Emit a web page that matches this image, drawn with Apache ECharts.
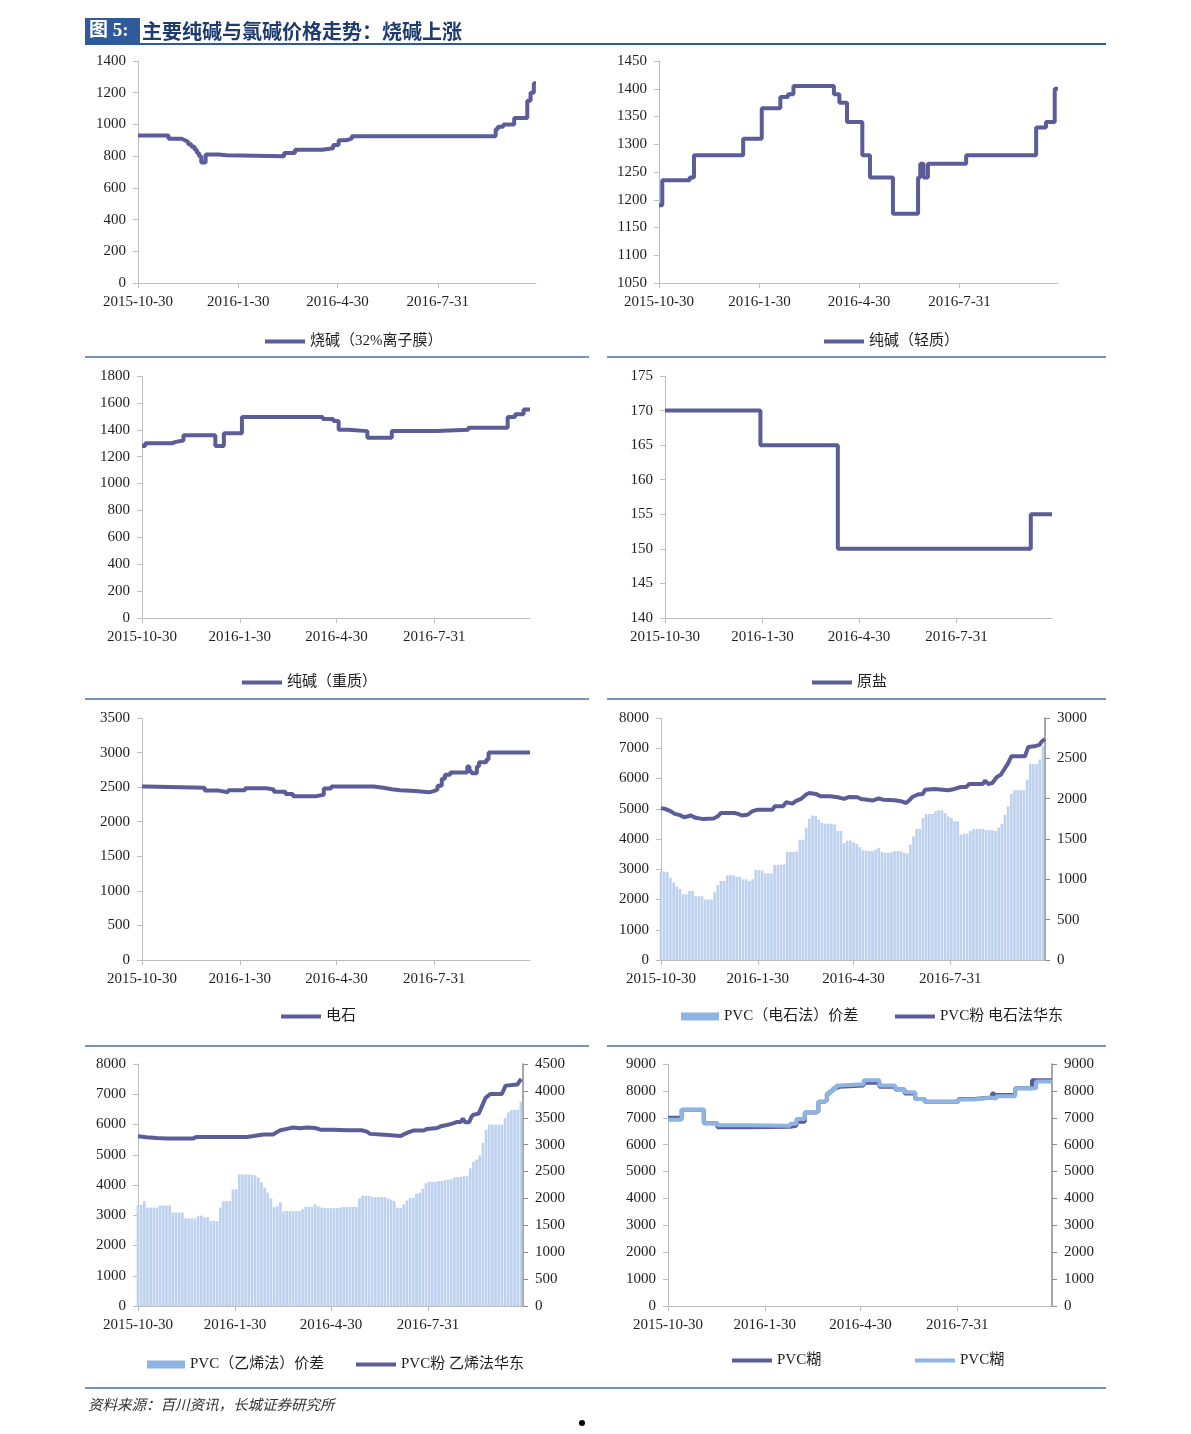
<!DOCTYPE html>
<html><head><meta charset="utf-8">
<script src="https://cdn.jsdelivr.net/npm/echarts@6/dist/echarts.min.js"></script>
<style>html,body{margin:0;padding:0;background:#fff;}#c{width:1191px;height:1434px;}</style>
</head><body><div id="c"></div>
<script>
// ---------- x axis (days since 2015-10-30) ----------
const tickDays = [0, 92, 183, 275];
const tickLabels = ['2015-10-30', '2016-1-30', '2016-4-30', '2016-7-31'];

// ---------- series: [day, value] ----------
const causticSoda = [[0,930],[28,910],[40,900],[43,890],[46,875],[49,860],[52,840],[54,820],[56,800],[58,760],[62,810],[74,805],[81,800],[134,820],[144,840],[169,850],[179,870],[184,900],[191,910],[196,925],[328,970],[330,985],[335,1000],[345,1040],[357,1150],[360,1200],[363,1260],[365,1260]];
const lightSodaAsh = [[0,1190],[3,1235],[28,1240],[32,1280],[77,1310],[94,1365],[111,1385],[118,1390],[123,1405],[160,1390],[165,1375],[172,1340],[186,1280],[193,1240],[214,1175],[237,1240],[239,1265],[242,1240],[246,1265],[281,1280],[345,1330],[354,1340],[362,1400],[365,1400]];
const heavySodaAsh = [[0,1280],[3,1300],[28,1310],[32,1320],[39,1360],[69,1280],[77,1375],[94,1495],[170,1480],[180,1465],[185,1400],[194,1390],[212,1340],[235,1390],[277,1400],[307,1415],[344,1495],[351,1515],[359,1550],[365,1550]];
const rawSalt = [[0,170],[90,165],[163,150],[345,155],[365,155]];
const carbide = [[0,2510],[4,2490],[59,2450],[72,2425],[81,2455],[97,2485],[117,2465],[124,2435],[135,2400],[142,2370],[164,2390],[171,2480],[178,2510],[218,2490],[227,2470],[235,2455],[243,2445],[257,2425],[270,2450],[276,2470],[278,2520],[282,2620],[285,2680],[290,2710],[306,2800],[308,2730],[310,2700],[315,2800],[317,2860],[324,2900],[326,3000],[365,3000]];
const pvcCarbideEast = [[0,5020],[4.5,4990],[9,4920],[13,4830],[18,4790],[22,4720],[26,4750],[28,4780],[33,4700],[39,4665],[50,4680],[54,4750],[57,4860],[70,4860],[73,4830],[77,4780],[82,4800],[87,4920],[92,4970],[106,4970],[108,5080],[116,5080],[119,5215],[125,5170],[128,5250],[133,5325],[138,5470],[141,5520],[147,5490],[152,5410],[161,5410],[168,5380],[174,5325],[179,5390],[187,5380],[190,5325],[196,5300],[201,5270],[207,5340],[211,5300],[222,5280],[228,5250],[233,5190],[236,5280],[239,5390],[244,5470],[249,5490],[251,5630],[260,5655],[273,5610],[279,5655],[285,5720],[290,5720],[293,5820],[306,5820],[308,5930],[311,5820],[315,5850],[319,6040],[323,6130],[326,6290],[330,6510],[333,6735],[346,6735],[349,7040],[355,7065],[360,7120],[362,7230],[365,7300]];
const pvcEthyleneEast = [[0,5610],[8,5580],[17.5,5550],[27,5535],[52,5535],[55.5,5590],[103,5590],[108,5610],[109,5645],[119,5670],[128,5670],[131.5,5745],[135,5810],[141,5855],[147,5900],[154,5875],[160,5900],[168,5885],[173,5830],[185,5830],[198,5810],[212,5810],[217,5765],[220,5690],[230,5670],[231,5610],[249,5620],[253,5690],[258,5765],[261,5800],[271,5800],[274,5855],[283.5,5885],[287,5940],[293,5985],[298,6030],[302.5,6085],[306,6085],[308,6195],[310,6075],[314,6075],[316,6250],[318,6325],[323,6360],[326,6600],[329.5,6880],[334,7010],[345,7010],[348.5,7285],[359.6,7320],[361,7395],[363.4,7505]];
const pvcPasteA = [[0,7000],[13,7300],[34,6800],[47,6650],[75,6670],[116,6700],[122,6850],[130,7200],[141,7250],[143,7600],[149,7650],[151,7900],[154,8000],[157,8100],[160,8150],[163,8200],[186,8300],[201,8150],[216,8050],[225,7900],[235,7700],[244,7600],[276,7700],[291,7750],[308,7900],[310,7750],[312,7850],[330,8100],[346,8400],[365,8400]];
const pvcPasteB = [[0,6930],[13,7300],[34,6800],[47,6720],[75,6700],[116,6780],[122,6950],[130,7200],[141,7250],[143,7600],[149,7650],[151,7900],[154,8000],[157,8100],[160,8200],[163,8250],[186,8400],[201,8200],[216,8050],[225,7950],[235,7700],[244,7600],[276,7680],[291,7750],[308,7700],[312,7800],[330,8100],[350,8350],[365,8350]];

// spread bars, one value every 3 days starting 2015-10-30
const spreadCarbide = [
 1095,1095,1090,1020,960,915,880,815,815,855,
 855,790,790,790,750,750,750,840,930,980,
 980,1050,1050,1050,1030,1030,1000,1000,980,1000,
 1115,1115,1110,1075,1075,1075,1180,1180,1180,1185,
 1340,1340,1340,1345,1490,1490,1640,1750,1790,1785,
 1740,1700,1690,1690,1690,1680,1600,1600,1450,1480,
 1480,1460,1440,1400,1360,1355,1350,1350,1370,1390,
 1340,1330,1330,1335,1350,1350,1350,1330,1320,1430,
 1530,1625,1625,1760,1810,1810,1810,1845,1855,1855,
 1820,1780,1760,1720,1720,1555,1565,1565,1600,1625,
 1625,1625,1625,1610,1610,1610,1600,1640,1690,1800,
 1905,2060,2105,2105,2105,2105,2235,2430,2430,2430,
 2485,2650];
const spreadEthylene = [
 1875,1880,1950,1830,1830,1830,1830,1870,1870,1870,
 1870,1740,1740,1740,1740,1630,1630,1630,1630,1680,
 1680,1650,1650,1580,1580,1580,1830,1950,1950,1950,
 2170,2170,2445,2445,2445,2445,2445,2430,2390,2300,
 2200,2110,2000,1840,1855,1930,1760,1765,1765,1765,
 1765,1765,1800,1845,1845,1845,1890,1855,1830,1820,
 1820,1820,1820,1820,1830,1840,1840,1840,1840,1840,
 2000,2050,2045,2045,2030,2025,2025,2025,2025,2000,
 1980,1950,1825,1825,1890,1960,2010,2010,2090,2105,
 2180,2280,2310,2310,2310,2325,2325,2340,2350,2360,
 2395,2395,2400,2415,2415,2560,2680,2725,2800,3035,
 3280,3375,3375,3375,3375,3375,3500,3600,3640,3650,
 3650,3800];
const BAR_STEP_DAYS = 3;

// ---------- styles ----------
const FONT = "'Liberation Serif','Noto Sans CJK SC',serif";
const TEXT = '#1e1e1e';
const DARK = '#5b5c98';
const LIGHT = '#8db4e2';
const BAR = '#bed2ef';
const BAR_LEG = '#8db3e3';
const AX = '#bdbdbd';
const AXR = '#8a8a8a';
const BLUE = '#2f5b9a';

const grids = [
 {left:138, top:61, width:398, height:222},
 {left:659, top:61, width:399, height:222},
 {left:142, top:376, width:388, height:242},
 {left:665, top:376, width:387, height:242},
 {left:142, top:718, width:388, height:242},
 {left:661, top:718, width:384, height:242},
 {left:138, top:1064, width:385, height:242},
 {left:668, top:1064, width:384, height:242}
].map(g => Object.assign({containLabel:false, outerBoundsMode:'none'}, g));

const lab = {color:TEXT, fontSize:15, fontFamily:FONT};
function xAx(g){
  return {type:'value', gridIndex:g, min:0, max:365,
    axisLine:{show:true, onZero:false, lineStyle:{color:AX, width:1}},
    axisTick:{show:true, customValues:tickDays, length:5, lineStyle:{color:AX}},
    axisLabel:Object.assign({customValues:tickDays, margin:12,
      formatter:v => { const k = tickDays.indexOf(Math.round(v)); return k < 0 ? '' : tickLabels[k]; }}, lab),
    splitLine:{show:false}};
}
function yAx(g, min, max, interval, right){
  const c = right ? AXR : AX;
  return {type:'value', gridIndex:g, min, max, interval, position: right ? 'right' : 'left',
    axisLine:{show:true, lineStyle:{color:c, width: right ? 1.5 : 1}},
    axisTick:{show:true, length:5, lineStyle:{color:c}},
    axisLabel:Object.assign({margin:12, formatter:v => String(v)}, lab),
    splitLine:{show:false}};
}
function line(name, g, y, data, color, step){
  return {type:'line', name, xAxisIndex:g, yAxisIndex:y, data, step: step ? 'end' : false,
    symbol:'none', showSymbol:false, lineStyle:{width:4, color}, itemStyle:{color}, animation:false, z:3};
}
function bars(name, g, y, vals){
  return {type:'bar', name, xAxisIndex:g, yAxisIndex:y, barWidth:2.7,
    data: vals.map((v, i) => [i * BAR_STEP_DAYS, v]),
    itemStyle:{color:BAR}, animation:false, z:2};
}
function leg(name, left, cy, isBar){
  return {left, top: cy - 6, padding:0, itemGap:0, selectedMode:false,
    itemWidth: isBar ? 38 : 40, itemHeight: isBar ? 8 : 4, icon:'rect',
    data:[isBar ? {name, itemStyle:{color:BAR_LEG}} : name],
    formatter: n => n.trim(),
    textStyle:{color:TEXT, fontSize:15, fontFamily:FONT}};
}

const option = {
  backgroundColor:'#fff',
  animation:false,
  grid: grids,
  xAxis: [0,1,2,3,4,5,6,7].map(xAx),
  yAxis: [
    yAx(0, 0, 1400, 200),
    yAx(1, 1050, 1450, 50),
    yAx(2, 0, 1800, 200),
    yAx(3, 140, 175, 5),
    yAx(4, 0, 3500, 500),
    yAx(5, 0, 8000, 1000),
    yAx(5, 0, 3000, 500, true),
    yAx(6, 0, 8000, 1000),
    yAx(6, 0, 4500, 500, true),
    yAx(7, 0, 9000, 1000),
    yAx(7, 0, 9000, 1000, true)
  ],
  legend: [
    leg('烧碱（32%离子膜）', 265, 340),
    leg('纯碱（轻质）', 824, 340),
    leg('纯碱（重质）', 242, 681),
    leg('原盐', 812, 681),
    leg('电石', 281, 1015),
    leg('PVC（电石法）价差', 681, 1015, true),
    leg('PVC粉 电石法华东', 895, 1015),
    leg('PVC（乙烯法）价差', 147, 1363, true),
    leg('PVC粉 乙烯法华东', 356, 1363),
    leg('PVC糊', 732, 1359),
    leg('PVC糊 ', 915, 1359)
  ],
  series: [
    line('烧碱（32%离子膜）', 0, 0, causticSoda, DARK, true),
    line('纯碱（轻质）', 1, 1, lightSodaAsh, DARK, true),
    line('纯碱（重质）', 2, 2, heavySodaAsh, DARK, true),
    line('原盐', 3, 3, rawSalt, DARK, true),
    line('电石', 4, 4, carbide, DARK, true),
    bars('PVC（电石法）价差', 5, 6, spreadCarbide),
    line('PVC粉 电石法华东', 5, 5, pvcCarbideEast, DARK, false),
    bars('PVC（乙烯法）价差', 6, 8, spreadEthylene),
    line('PVC粉 乙烯法华东', 6, 7, pvcEthyleneEast, DARK, false),
    line('PVC糊', 7, 9, pvcPasteA, DARK, true),
    line('PVC糊 ', 7, 10, pvcPasteB, LIGHT, true)
  ],
  graphic: [
    {type:'rect', shape:{x:85, y:18, width:55, height:25}, style:{fill:BLUE}},
    {type:'text', x:89, y:31, style:{text:'图 5:', fill:'#fff', font:"bold 19px 'Liberation Serif','Noto Sans CJK SC'", verticalAlign:'middle'}},
    {type:'text', x:142, y:31, style:{text:'主要纯碱与氯碱价格走势：烧碱上涨', fill:'#1d3b6e', font:"bold 20px 'Noto Sans CJK SC'", verticalAlign:'middle'}},
    {type:'line', shape:{x1:85, y1:44, x2:1106, y2:44}, style:{stroke:BLUE, lineWidth:2}},
    {type:'line', shape:{x1:85, y1:357, x2:589, y2:357}, style:{stroke:'#4a6fa5', lineWidth:1.5}},
    {type:'line', shape:{x1:607, y1:357, x2:1106, y2:357}, style:{stroke:'#4a6fa5', lineWidth:1.5}},
    {type:'line', shape:{x1:85, y1:699, x2:589, y2:699}, style:{stroke:'#4a6fa5', lineWidth:1.5}},
    {type:'line', shape:{x1:607, y1:699, x2:1106, y2:699}, style:{stroke:'#4a6fa5', lineWidth:1.5}},
    {type:'line', shape:{x1:85, y1:1046, x2:589, y2:1046}, style:{stroke:'#4a6fa5', lineWidth:1.5}},
    {type:'line', shape:{x1:607, y1:1046, x2:1106, y2:1046}, style:{stroke:'#4a6fa5', lineWidth:1.5}},
    {type:'line', shape:{x1:85, y1:1388, x2:1106, y2:1388}, style:{stroke:'#4a6fa5', lineWidth:1.5}},
    {type:'text', x:88, y:1404, style:{text:'资料来源：百川资讯，长城证券研究所', fill:'#333', font:"italic 14.5px 'Noto Sans CJK SC'", verticalAlign:'middle'}},
    {type:'circle', shape:{cx:582, cy:1423, r:3}, style:{fill:'#000'}}
  ]
};
const chart = echarts.init(document.getElementById('c'), null, {renderer:'canvas'});
chart.setOption(option);
</script></body></html>
